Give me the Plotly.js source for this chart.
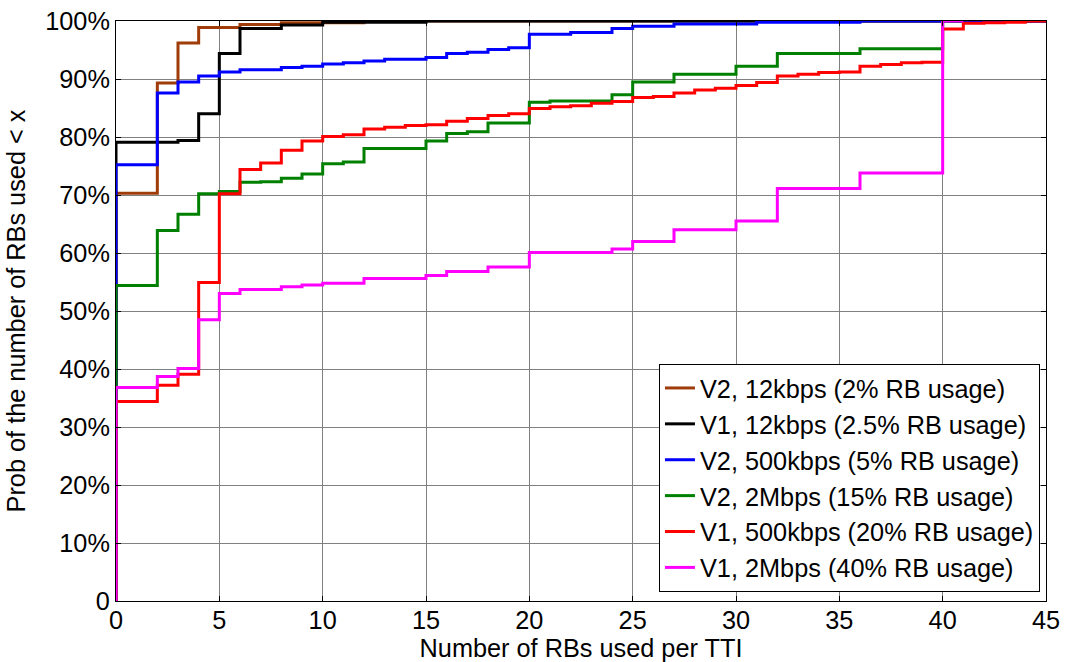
<!DOCTYPE html>
<html>
<head>
<meta charset="utf-8">
<script src="https://cdn.plot.ly/plotly-3.0.1.min.js"></script>
<style>html,body{margin:0;padding:0;background:#fff;}#chart{width:1067px;height:662px;}</style>
</head>
<body>
<div id="chart"></div>
<script>
// Series names (legend order)
const seriesNames = [
  "V2, 12kbps (2% RB usage)",
  "V1, 12kbps (2.5% RB usage)",
  "V2, 500kbps (5% RB usage)",
  "V2, 2Mbps (15% RB usage)",
  "V1, 500kbps (20% RB usage)",
  "V1, 2Mbps (40% RB usage)"
];
const seriesColors = ["#a03c0a", "#000000", "#0000ff", "#008000", "#ff0000", "#ff00ff"];

// Stair-step CDF data (x = number of RBs, y = percent)
const v2_12k_x = [0, 0, 2, 3, 4, 6, 8, 12, 45];
const v2_12k_y = [0, 70.3, 89.3, 96.2, 98.9, 99.4, 99.7, 100, 100];

const v1_12k_x = [0, 0, 3, 4, 5, 6, 8, 10, 15, 45];
const v1_12k_y = [0, 79.1, 79.4, 84.0, 94.4, 98.7, 99.3, 99.8, 100, 100];

const v2_500k_x = [0, 0, 2, 3, 4, 5, 6, 8, 9, 10, 11, 12, 13, 15, 16, 17, 18, 19, 20, 22, 24, 25, 27, 31, 36, 45];
const v2_500k_y = [0, 75.2, 87.6, 89.5, 90.5, 91.2, 91.6, 92.0, 92.2, 92.6, 92.8, 93.1, 93.4, 93.7, 94.4, 94.6, 95.1, 95.4, 97.7, 98.0, 98.7, 99.1, 99.5, 99.8, 100, 100];

const v2_2m_x = [0, 0, 2, 3, 4, 5, 6, 7, 8, 9, 10, 11, 12, 15, 16, 17, 18, 20, 21, 24, 25, 27, 30, 32, 36, 40, 41];
const v2_2m_y = [0, 54.4, 63.9, 66.7, 70.2, 70.6, 72.2, 72.3, 72.9, 73.6, 75.4, 75.7, 78.0, 79.3, 80.6, 80.9, 82.4, 86.0, 86.2, 87.3, 89.5, 90.8, 92.2, 94.4, 95.2, 100, 100];

const v1_500k_x = [0, 0, 2, 3, 4, 5, 6, 7, 8, 9, 10, 11, 12, 13, 14, 15, 16, 17, 18, 19, 20, 21, 22, 23, 24, 25, 26, 27, 28, 29, 30, 31, 32, 33, 34, 35, 36, 37, 38, 39, 40, 41, 42, 43, 44, 45];
const v1_500k_y = [0, 34.4, 37.2, 39.1, 54.9, 70.2, 74.4, 75.5, 77.7, 79.3, 80.1, 80.4, 81.4, 81.7, 82.0, 82.1, 82.7, 83.2, 83.7, 84.0, 84.9, 85.2, 85.4, 85.8, 86.1, 86.8, 87.0, 87.6, 88.1, 88.4, 88.9, 89.4, 90.5, 90.8, 91.1, 91.2, 92.2, 92.5, 92.8, 92.9, 98.6, 99.6, 99.7, 99.8, 100, 100];

const v1_2m_x = [0, 0, 2, 3, 4, 5, 6, 8, 9, 10, 12, 15, 16, 18, 20, 24, 25, 27, 30, 32, 36, 40, 41];
const v1_2m_y = [0, 36.8, 38.7, 40.1, 48.5, 53.0, 53.7, 54.2, 54.5, 54.8, 55.6, 56.1, 56.8, 57.6, 60.1, 60.7, 62.0, 64.0, 65.5, 71.1, 73.8, 100, 100];

const xTickVals = [0, 5, 10, 15, 20, 25, 30, 35, 40, 45];
const yTickVals = [0, 10, 20, 30, 40, 50, 60, 70, 80, 90, 100];
const yTickText = ["0", "10%", "20%", "30%", "40%", "50%", "60%", "70%", "80%", "90%", "100%"];

const xs = [v2_12k_x, v1_12k_x, v2_500k_x, v2_2m_x, v1_500k_x, v1_2m_x];
const ys = [v2_12k_y, v1_12k_y, v2_500k_y, v2_2m_y, v1_500k_y, v1_2m_y];

const traces = seriesNames.map((name, i) => ({
  type: "scatter",
  mode: "lines",
  name: name,
  x: xs[i],
  y: ys[i],
  line: { color: seriesColors[i], width: 3, shape: "hv" }
}));

const FONT = "Liberation Sans, Arial, sans-serif";
const FS = 25.3;

const layout = {
  width: 1067,
  height: 662,
  margin: { l: 116, r: 21, t: 21, b: 61 },
  paper_bgcolor: "#ffffff",
  plot_bgcolor: "#ffffff",
  font: { family: FONT, size: FS, color: "#000" },
  showlegend: true,
  legend: {
    x: 0.9935, y: 0.0155, xanchor: "right", yanchor: "bottom",
    bgcolor: "#ffffff", bordercolor: "#000", borderwidth: 1,
    font: { family: FONT, size: FS, color: "#000" },
    tracegroupgap: 0
  },
  xaxis: {
    range: [0, 45],
    tickvals: xTickVals,
    ticks: "inside", ticklen: 5, tickcolor: "#000",
    ticklabelstandoff: -3,
    showline: true, linecolor: "#000", linewidth: 1, mirror: "ticks",
    showgrid: true, gridcolor: "#808080", gridwidth: 1,
    zeroline: false, automargin: false,
    tickfont: { family: FONT, size: FS, color: "#000" },
    title: { text: "Number of RBs used per TTI", font: { family: FONT, size: FS, color: "#000" }, standoff: 4 }
  },
  yaxis: {
    range: [0, 100],
    tickvals: yTickVals,
    ticktext: yTickText,
    ticks: "inside", ticklen: 5, tickcolor: "#000",
    showline: true, linecolor: "#000", linewidth: 1, mirror: "ticks",
    showgrid: true, gridcolor: "#808080", gridwidth: 1,
    zeroline: false, automargin: false,
    tickfont: { family: FONT, size: FS, color: "#000" },
    title: { text: "Prob of the number of RBs used < x", font: { family: FONT, size: FS, color: "#000" }, standoff: 12 }
  }
};

Plotly.newPlot("chart", traces, layout, { displayModeBar: false, staticPlot: true });
</script>
</body>
</html>
